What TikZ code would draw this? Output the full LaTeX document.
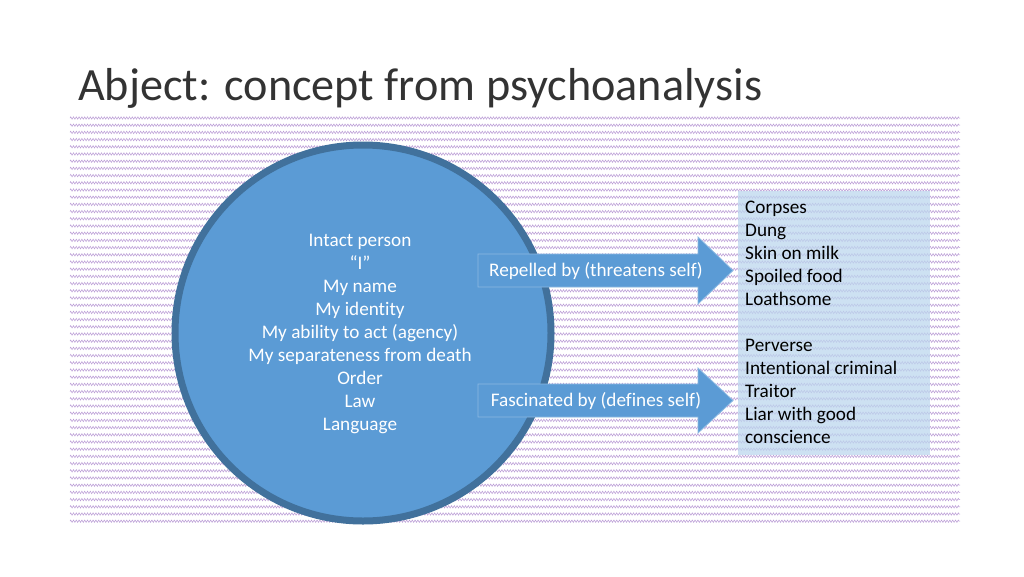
\documentclass[tikz,border=0pt]{standalone}
\usepackage{fontspec}
\setmainfont[Ligatures=NoCommon]{Carlito}
\usetikzlibrary{decorations.pathmorphing}
\definecolor{blueA}{HTML}{5B9BD5}
\definecolor{blueB}{HTML}{41719C}
\definecolor{blueL}{HTML}{BDD7EE}
\definecolor{hatch}{HTML}{9C70C4}
\definecolor{titlec}{HTML}{333333}
\tikzset{
  hatchline/.style={draw=hatch, line width=0.5pt, opacity=0.7,
    decorate, decoration={zigzag, segment length=2.8pt, amplitude=1.2pt}},
  blockarrow/.style={fill=blueA, draw=blueA!70!white, line width=0.8pt},
  bodytext/.style={font=\fontsize{19.2}{23}\selectfont, inner sep=0pt},
}
\begin{document}
\begin{tikzpicture}[x=1pt,y=-1pt]
\useasboundingbox (0,0) rectangle (1024,576);
\fill[white] (0,0) rectangle (1024,576);
% title
\node[anchor=base west, inner sep=0pt, text=titlec, font=\fontsize{46.2}{55}\selectfont] (title) at (78,100) {Abject: concept from psychoanalysis};
% hatched background
\foreach \yy in {118,125.2,...,528} {
  \draw[hatchline] (70,\yy) -- (960,\yy);
}
% circle
\fill[blueA] (363,333) circle[radius=188pt];
\draw[blueB, line width=7pt] (363,333) circle[radius=188pt];
\node[bodytext, text=white, align=center] (self) at (360,334) {Intact person\\“I”\\My name\\My identity\\My ability to act (agency)\\My separateness from death\\Order\\Law\\Language};
% right box
\fill[blueL, opacity=0.75] (738,191) rectangle (930,455);
\node[bodytext, text=black, align=left, anchor=west] (list) at (745,322) {Corpses\\Dung\\Skin on milk\\Spoiled food\\Loathsome\\[23pt]Perverse\\Intentional criminal\\Traitor\\Liar with good\\conscience};
% arrows
\draw[blockarrow] (478,254) -- (698,254) -- (698,237) -- (733,270.5) -- (698,304) -- (698,287) -- (478,287) -- cycle;
\node[bodytext, text=white] (rep) at (596,271) {Repelled by (threatens self)};
\draw[blockarrow] (478,384) -- (698,384) -- (698,368) -- (733,400.5) -- (698,433) -- (698,417) -- (478,417) -- cycle;
\node[bodytext, text=white] (fas) at (596,401) {Fascinated by (defines self)};
\end{tikzpicture}
\end{document}
